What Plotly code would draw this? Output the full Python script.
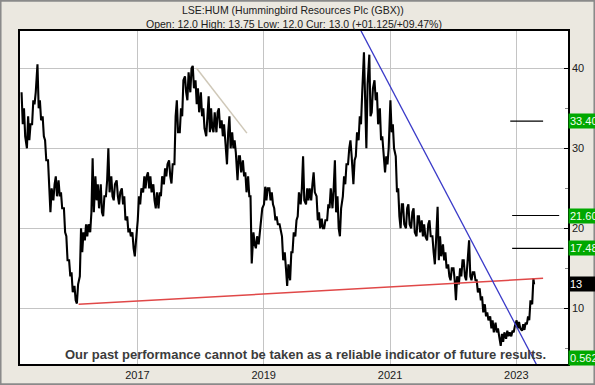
import pandas as pd
import plotly.graph_objects as go

# ---- data (half-month low / high ranges, from Mar 2015) ----
half_lo = [33,31.5,30,31,33,35.5,35,33.5,31.5,28.5,25,22,23.5,24,24,22.5,19.5,16,14,12,
           11,10.6,14,17,18.5,19,19.5,22,23.5,22.5,22,21.5,24,24.5,24,23.5,24,23,23,21,
           19.5,19,17.5,16.5,21,23,24.5,25,25,24.5,23.5,22.5,22.5,24,25.5,26.5,26.5,25.6,28,32,
           32,34,37,36,37,37.5,35.5,34.5,34,32.5,31.5,32,32.5,32,32,32.5,31.5,31,28,30,
           30,29.5,26,27,26.5,24.5,24,15.6,18,17.5,18,21,23,23.5,23.5,23,21,20.5,19.5,16,
           15,12.8,13.5,17,19,21.5,23,23.5,23,23.5,23.5,24.5,21,20,20,20,21,22.5,22.5,22,
           20,19,24,25.5,28,29,25.5,29,31,33,36,30,34,34.5,36,33,31,29.5,27,28,
           32,30,24.5,21.5,20,20.5,20,20.5,20,19.5,19,19.5,19,19,18.5,19,17,15.5,16,16.5,
           16,15,14,13.5,13.5,11,13,14,14,13.5,14,13.5,13.5,12,11,9.5,9,8.5,7.5,7,
           7,6.5,5.3,5.8,6.2,6.5,6.5,7,7.5,7.5,7.2,7.3,8,8.5,10.5]
half_hi = [37,35,34,33,36,37,40.5,36,34,31,28.5,25,25.5,26.5,26,24.5,22.5,19,16,14.5,
           12.8,13,20,19.5,20.5,20.5,22,28.75,26.5,25.5,25.5,24,26,30,26.5,25.5,26,24.5,25,24,
           21.5,20,19.5,18.5,24,25,26.5,26.5,27,26.5,25.5,24.5,24.5,26.5,27.5,28,28.5,28,34,36,
           35,38.5,39,39.5,40,40.3,38.5,37.5,37,35,34,36.5,35,34.5,34.5,35,33.5,33,32,34,
           32,31,29,29,28.5,27,26.5,24,19.5,19,19.5,22.5,25.2,25,25,24.5,22.5,21.5,20.5,19,
           17,15.5,17,19.5,21,24.5,25,29,25,25,25.5,27,24,22,21.2,21,23,25,25,28.5,
           24,22.5,26.5,28,30,31,28.5,32,34,37,42,38,41.7,37.5,38.5,37,35,31.5,29,30,
           36,33,29,25,23,23,22.5,23,22,22.5,21.5,21.5,21,20.5,20.5,21,19,18.5,22.7,19,
           18,17,15.5,15,15,14,15,16,16,15.5,18.5,14.5,14.5,13.5,12.5,11.5,10.5,9.5,9,8.5,
           8.2,7.5,6.8,7,7.2,7,7.2,7.8,8.5,8.3,8,8.2,9,11,13.75]
last_date = "2023-04-14"
last_close = 13.0

# trend lines (date, value)
red_line = (["2016-01-27", "2023-06-05"], [10.5, 13.75])
blue_line = (["2020-07-14", "2023-04-27"], [44.8, 3.0])
grey_line = (["2017-12-08", "2018-09-26"], [40.04, 31.9])

# target levels (value, start, end)
targets = [(33.40, "2022-11-27", "2023-06-05"),
           (21.60, "2022-12-08", "2023-09-06"),
           (17.48, "2022-12-08", "2023-10-01")]
green_labels = ["33.40", "21.60", "17.48"]
green_vals = [33.40, 21.60, 17.48]
cur_label = "13"
bottom_label = "0.562"

title1 = "LSE:HUM (Hummingbird Resources Plc (GBX))"
title2 = "Open: 12.0 High: 13.75 Low: 12.0 Cur: 13.0 (+01.125/+09.47%)"
disclaimer = "Our past performance cannot be taken as a reliable indicator of future results."

# ---- build zigzag price path from half-month ranges ----
periods = pd.date_range("2015-03-01", periods=len(half_lo), freq="SMS")
xs, ys = [], []
for i, d in enumerate(periods):
    lo, hi = half_lo[i], half_hi[i]
    mid = (lo + hi) / 2
    nxt = (half_lo[i + 1] + half_hi[i + 1]) / 2 if i + 1 < len(half_lo) else last_close
    first, second = (lo, hi) if nxt >= mid else (hi, lo)
    xs += [d + pd.Timedelta(days=2), d + pd.Timedelta(days=9)]
    ys += [first, second]
xs.append(pd.Timestamp(last_date))
ys.append(last_close)

fig = go.Figure()
fig.add_trace(go.Scatter(x=xs, y=ys, mode="lines",
                         line=dict(color="black", width=2.1), hoverinfo="skip"))
fig.add_trace(go.Scatter(x=red_line[0], y=red_line[1], mode="lines",
                         line=dict(color="#e04848", width=1.5)))
fig.add_trace(go.Scatter(x=blue_line[0], y=blue_line[1], mode="lines",
                         line=dict(color="#3a3ac8", width=1.3)))
fig.add_trace(go.Scatter(x=grey_line[0], y=grey_line[1], mode="lines",
                         line=dict(color="#cfc8b8", width=1.5)))
for v, a, b in targets:
    fig.add_trace(go.Scatter(x=[a, b], y=[v, v], mode="lines",
                             line=dict(color="black", width=1.2)))

W, H = 595, 385
ml, mr, mt, mb = 20, 27, 31, 21
pw, ph = W - ml - mr, H - mt - mb

annotations = [
    dict(text=title1, xref="paper", yref="paper", x=(293 - ml) / pw, y=1 + (mt - 9.5) / ph,
         xanchor="center", yanchor="middle", showarrow=False,
         font=dict(family="Liberation Sans, Arial", size=10.5, color="#202020")),
    dict(text=title2, xref="paper", yref="paper", x=(294 - ml) / pw, y=1 + (mt - 23.5) / ph,
         xanchor="center", yanchor="middle", showarrow=False,
         font=dict(family="Liberation Sans, Arial", size=10.5, color="#202020")),
    dict(text="<b>" + disclaimer + "</b>", xref="paper", yref="paper",
         x=(305 - ml) / pw, y=(H - mb - 354.5) / ph, xanchor="center", yanchor="middle",
         showarrow=False,
         font=dict(family="Liberation Sans, Arial", size=13, color="#3c3c3c")),
]
for lab, v in zip(green_labels, green_vals):
    annotations.append(dict(text=lab, xref="paper", yref="y", x=1, y=v, xanchor="left",
                            yanchor="middle", showarrow=False, bgcolor="#00a800",
                            width=40, align="left", borderpad=1,
                            font=dict(family="Liberation Sans, Arial", size=11, color="#f0fff0")))
annotations.append(dict(text=cur_label, xref="paper", yref="y", x=1, y=last_close,
                        xanchor="left", yanchor="middle", showarrow=False, bgcolor="black",
                        width=40, align="left", borderpad=1,
                        font=dict(family="Liberation Sans, Arial", size=11, color="white")))
annotations.append(dict(text=bottom_label, xref="paper", yref="paper", x=1,
                        y=(H - mb - 357.5) / ph, xanchor="left", yanchor="middle",
                        showarrow=False, bgcolor="#00a800", width=40, align="left",
                        borderpad=1,
                        font=dict(family="Liberation Sans, Arial", size=11, color="#f0fff0")))

shapes = [dict(type="rect", xref="paper", yref="paper",
               x0=-ml / pw + 0.001, x1=1 + mr / pw - 0.001,
               y0=-mb / ph + 0.002, y1=1 + mt / ph - 0.002,
               line=dict(color="#8a8a8a", width=2), layer="below")]

fig.update_layout(
    width=W, height=H, margin=dict(l=ml, r=mr, t=mt, b=mb, autoexpand=False),
    paper_bgcolor="#ebe8e0", plot_bgcolor="white", showlegend=False,
    annotations=annotations, shapes=shapes,
    font=dict(family="Liberation Sans, Arial", size=11, color="black"),
    xaxis=dict(range=["2015-02-22", "2023-10-27"], tickvals=["2017-01-01", "2019-01-01",
               "2021-01-01", "2023-01-01"], ticktext=["2017", "2019", "2021", "2023"],
               showgrid=True, gridcolor="#c4c4c4", gridwidth=1, showline=True,
               linecolor="black", linewidth=1.5, mirror=True, ticks="", zeroline=False,
               automargin=False, tickfont=dict(size=11, color="#202020")),
    yaxis=dict(range=[3.04, 44.66], side="right", tickvals=[10, 20, 30, 40],
               showgrid=True, gridcolor="#c4c4c4", gridwidth=1, showline=True,
               linecolor="black", linewidth=1.5, mirror=True, ticks="inside", ticklen=4,
               tickcolor="black", zeroline=False, automargin=False,
               minor=dict(tickvals=[5, 15, 25, 35], ticks="inside", ticklen=3,
                          tickcolor="#888888", showgrid=False),
               tickfont=dict(size=11, color="#202020")),
)

fig.write_html("out.html", config={"displayModeBar": False},
               post_script="document.body.style.margin='0';document.body.style.overflow='hidden';")
